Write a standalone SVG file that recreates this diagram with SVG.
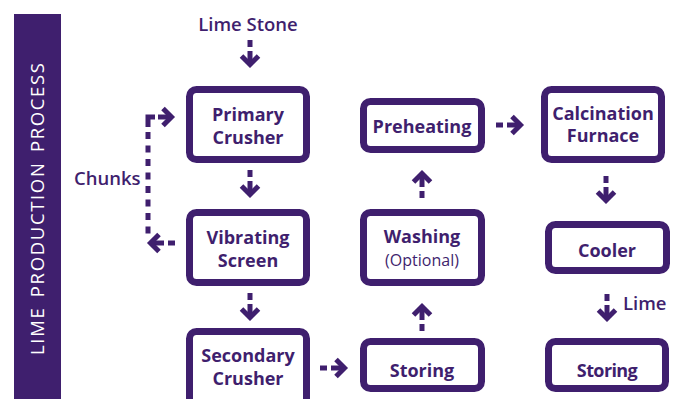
<svg xmlns="http://www.w3.org/2000/svg" xmlns:xlink="http://www.w3.org/1999/xlink" width="673" height="399" viewBox="0 0 673 399">
<style>
.box{fill:#fff;stroke:#3f1f6e;stroke-width:7}
.lbl{font-family:"Open Sans","Liberation Sans",sans-serif;font-weight:700;font-size:18px;fill:#3f1f6e;text-anchor:middle}
.sm{font-family:"Open Sans","Liberation Sans",sans-serif;font-weight:400;font-size:16px}
.note{font-family:"Open Sans","Liberation Sans",sans-serif;font-weight:600;font-size:18.5px;fill:#3f1f6e}
.ln{fill:none;stroke:#3f1f6e;stroke-width:5}
</style>
<defs>
<g id="ah">
<line class="ln" x1="0" y1="-29" x2="0" y2="-22"/>
<line class="ln" x1="0" y1="-18" x2="0" y2="-5"/>
<polyline class="ln" points="-8.5,-13 0,-4.5 8.5,-13" stroke-linejoin="miter"/>
</g>
<g id="hd">
<line class="ln" x1="0" y1="-18" x2="0" y2="-5"/>
<polyline class="ln" points="-8.5,-13 0,-4.5 8.5,-13" stroke-linejoin="miter"/>
</g>
</defs>
<rect x="14" y="14" width="47" height="390" fill="#3f1f6e"/>
<text transform="translate(43.5,209) rotate(-90)" text-anchor="middle" font-family="'Open Sans','Liberation Sans',sans-serif" font-size="18.5" fill="#fff" textLength="292" lengthAdjust="spacing" word-spacing="3">LIME PRODUCTION PROCESS</text>
<text class="note" x="248" y="31" text-anchor="middle" font-size="19">Lime Stone</text>
<g id="connectors">
<use xlink:href="#ah" href="#ah" transform="translate(250,69)"/>
<use xlink:href="#ah" href="#ah" transform="translate(250,199)"/>
<use xlink:href="#ah" href="#ah" transform="translate(250,322)"/>
<use xlink:href="#ah" href="#ah" transform="translate(349,368) rotate(-90)"/>
<use xlink:href="#ah" href="#ah" transform="translate(422,302) rotate(180)"/>
<use xlink:href="#ah" href="#ah" transform="translate(422,169) rotate(180)"/>
<use xlink:href="#ah" href="#ah" transform="translate(525,125) rotate(-90)"/>
<use xlink:href="#ah" href="#ah" transform="translate(606,205)"/>
<use xlink:href="#ah" href="#ah" transform="translate(607,323)"/>
<use xlink:href="#hd" href="#hd" transform="translate(176,117) rotate(-90)"/>
<path class="ln" d="M148,127 V117 H155" stroke-linejoin="miter"/>
<line class="ln" x1="148" y1="132" x2="148" y2="235" stroke-dasharray="7 6.5"/>
<use xlink:href="#ah" href="#ah" transform="translate(146,243) rotate(90)"/>
</g>
<text class="note" x="74" y="185">Chunks</text>
<text class="note" x="623" y="310">Lime</text>
<g id="primary-crusher">
<rect class="box" x="189.5" y="89.5" width="117" height="70" rx="7"/>
<text class="lbl" x="248" y="120.5">Primary<tspan x="248" dy="23">Crusher</tspan></text>
</g>
<g id="vibrating-screen">
<rect class="box" x="189.5" y="212.5" width="117" height="70" rx="7"/>
<text class="lbl" x="248" y="243.5">Vibrating<tspan x="248" dy="23">Screen</tspan></text>
</g>
<g id="secondary-crusher">
<rect class="box" x="189.5" y="331.5" width="117" height="80" rx="7"/>
<text class="lbl" x="248" y="361.5">Secondary<tspan x="248" dy="23">Crusher</tspan></text>
</g>
<g id="preheating">
<rect class="box" x="363.5" y="101.5" width="118" height="48" rx="7"/>
<text class="lbl" x="422" y="133">Preheating</text>
</g>
<g id="calcination-furnace">
<rect class="box" x="544.5" y="89.5" width="117" height="70" rx="7"/>
<text class="lbl" x="603" y="120">Calcination<tspan x="603" dy="22">Furnace</tspan></text>
</g>
<g id="washing">
<rect class="box" x="363.5" y="212.5" width="118" height="70" rx="7"/>
<text class="lbl" x="422" y="242.5">Washing<tspan class="sm" x="422" dy="23">(Optional)</tspan></text>
</g>
<g id="cooler">
<rect class="box" x="548.5" y="224.5" width="118" height="46" rx="7"/>
<text class="lbl" x="607" y="257">Cooler</text>
</g>
<g id="storing-1">
<rect class="box" x="363.5" y="341.5" width="118" height="47" rx="7"/>
<text class="lbl" x="422" y="377">Storing</text>
</g>
<g id="storing-2">
<rect class="box" x="548.5" y="341.5" width="117" height="47" rx="7"/>
<text class="lbl" x="607" y="377" letter-spacing="-0.6">Storing</text>
</g>
</svg>
